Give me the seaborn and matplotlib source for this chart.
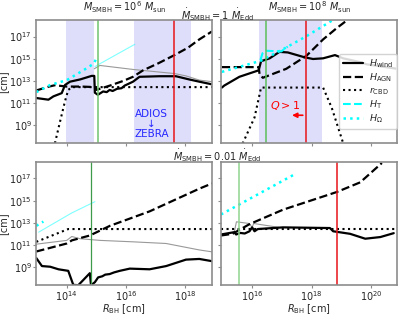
import numpy as np
import matplotlib
matplotlib.use("Agg")
import matplotlib.pyplot as plt
import seaborn as sns

# all values are log10 of the quantity in cm

# --- M = 1e6 Msun, Mdot = 1 Edd (top left)
tl_wind_x = [12.97, 13.38, 13.55, 13.83, 13.94, 14.11, 14.45, 14.84, 14.93, 14.95, 15.05, 15.23, 15.35, 15.45, 15.55, 15.7, 15.85, 15.96, 16.24, 16.46, 17.14, 17.69, 18.14, 18.48, 18.91]
tl_wind_y = [11.47, 11.32, 11.62, 11.91, 12.64, 12.94, 13.14, 13.46, 13.46, 11.95, 11.76, 12.06, 12.0, 12.2, 12.1, 12.3, 12.35, 12.59, 12.94, 13.38, 13.43, 13.43, 13.14, 12.94, 12.7]
tl_agn_x = [12.97, 13.4, 13.6, 14.0, 14.5, 14.97, 15.0, 15.46, 15.9, 16.24, 16.58, 17.1, 17.64, 18.1, 18.48, 18.91]
tl_agn_y = [12.15, 12.5, 12.62, 12.5, 12.5, 12.45, 12.2, 12.59, 13.0, 13.38, 13.96, 14.6, 15.33, 16.0, 16.74, 17.46]
tl_cbd_x = [13.6, 13.78, 13.94, 14.05, 14.17, 18.91]
tl_cbd_y = [7.4, 9.43, 11.18, 12.2, 12.45, 12.45]
tl_omega_x = [12.97, 13.44, 14.0, 14.56, 14.9, 15.0]
tl_omega_y = [12.0, 12.64, 13.08, 13.96, 14.54, 15.0]
tl_faint_x = [14.95, 16.3]
tl_faint_y = [14.3, 16.3]
tl_gray_x = [14.93, 15.12, 16.24, 17.64, 18.03, 18.48, 18.91]
tl_gray_y = [14.1, 14.4, 14.04, 13.67, 13.46, 13.08, 12.94]

# --- M = 1e8 Msun, Mdot = 1 Edd (top right)
tr_wind_x = [14.98, 15.06, 15.57, 16.22, 16.3, 16.59, 16.92, 17.2, 17.77, 18.05, 18.39, 18.79, 19.07, 19.64, 19.86, 20.88]
tr_wind_y = [12.41, 12.59, 13.38, 13.96, 14.78, 15.04, 15.62, 15.57, 15.13, 14.98, 15.04, 15.33, 15.04, 14.7, 14.5, 14.1]
tr_agn_x = [14.98, 16.22, 16.25, 16.36, 17.15, 17.83, 18.39, 18.85, 19.19]
tr_agn_y = [14.25, 14.25, 13.6, 13.29, 14.1, 15.27, 16.74, 17.76, 18.45]
tr_cbd_x = [15.68, 16.08, 16.3, 18.39, 18.68, 19.07]
tr_cbd_y = [7.38, 9.72, 12.41, 12.41, 10.6, 7.38]
tr_t_x = [16.28, 16.35, 16.47, 16.98, 17.2]
tr_t_y = [14.9, 15.5, 15.72, 15.66, 16.1]
tr_omega_x = [14.98, 16.3, 17.04, 17.83, 18.73]
tr_omega_y = [13.82, 14.83, 15.86, 17.03, 18.5]

# --- M = 1e6 Msun, Mdot = 0.01 Edd (bottom left)
bl_wind_x = [12.97, 13.16, 13.44, 13.72, 14.05, 14.22, 14.39, 14.78, 14.82, 14.95, 15.06, 15.2, 15.3, 15.45, 15.6, 15.79, 16.13, 16.8, 17.36, 18.03, 18.48, 18.91]
bl_wind_y = [9.84, 9.12, 9.06, 8.83, 8.69, 7.43, 7.4, 8.48, 7.4, 7.67, 8.1, 8.2, 8.35, 8.4, 8.55, 8.69, 8.89, 8.83, 9.12, 9.7, 9.76, 9.56]
bl_agn_x = [12.97, 14.0, 14.1, 14.17, 14.78, 15.46, 16.8, 18.48, 18.91]
bl_agn_y = [10.43, 11.15, 11.3, 11.43, 11.87, 12.74, 14.04, 16.08, 16.55]
bl_cbd_x = [12.97, 14.05, 18.91]
bl_cbd_y = [11.3, 12.45, 12.45]
bl_omega_x = [12.97, 13.21]
bl_omega_y = [12.74, 13.12]
bl_faint_x = [13.05, 14.17, 14.95]
bl_faint_y = [12.17, 13.9, 14.91]
bl_gray_x = [12.97, 14.0, 14.17, 14.45, 15.12, 16.24, 17.36, 18.48, 18.91]
bl_gray_y = [11.09, 11.43, 11.78, 11.58, 11.43, 11.3, 11.15, 10.57, 10.4]

# --- M = 1e8 Msun, Mdot = 0.01 Edd (bottom right)
br_wind_x = [14.95, 15.4, 15.46, 15.6, 15.75, 15.91, 16.0, 16.08, 16.19, 17.04, 18.62, 18.73, 19.3, 19.81, 20.32, 20.77]
br_wind_y = [11.96, 12.17, 11.96, 12.1, 12.05, 12.25, 12.6, 12.25, 12.45, 12.6, 12.54, 12.25, 12.02, 11.58, 11.73, 12.08]
br_agn_x = [14.95, 15.34, 15.91, 17.04, 18.85, 19.64, 20.37]
br_agn_y = [11.87, 12.02, 12.89, 14.19, 15.78, 16.65, 18.39]
br_cbd_x = [14.95, 20.88]
br_cbd_y = [12.45, 12.45]
br_omega_x = [14.95, 17.38]
br_omega_y = [13.76, 17.3]
br_gray_x = [15.4, 15.47, 15.9, 16.0, 16.05, 16.9]
br_gray_y = [12.2, 13.1, 12.95, 12.6, 12.95, 12.6]

# shaded ranges and vertical markers (log10 R)
tl_spans = [(13.97, 14.93), (16.26, 18.2)]
tr_spans = [(16.22, 18.34)]
tl_green, tl_red = 15.04, 17.64
tr_green, tr_red = 16.47, 17.8
bl_green = 14.82
br_green, br_red = 15.55, 18.85

sns.set_style("white")
plt.rcParams["font.family"] = ["DejaVu Sans"]
plt.rcParams["axes.edgecolor"] = "0.55"
plt.rcParams["axes.linewidth"] = 1.2
plt.rcParams["xtick.color"] = "0.55"
plt.rcParams["ytick.color"] = "0.55"
plt.rcParams["xtick.labelcolor"] = "0.15"
plt.rcParams["ytick.labelcolor"] = "0.15"


def curve(ax, lx, ly, **kw):
    sns.lineplot(x=np.power(10.0, lx), y=np.power(10.0, ly), ax=ax,
                 estimator=None, sort=False, legend=False, **kw)


def wind(ax, lx, ly, **kw):
    curve(ax, lx, ly, color="black", lw=1.6, **kw)


def agn(ax, lx, ly, **kw):
    curve(ax, lx, ly, color="black", lw=1.6, linestyle="--", **kw)


def cbd(ax, lx, ly, **kw):
    curve(ax, lx, ly, color="black", lw=1.5, linestyle=":", **kw)


fig, axes = plt.subplots(2, 2, figsize=(4, 3.17), dpi=100, sharey=True)
plt.subplots_adjust(left=0.09, right=0.9925, top=0.937, bottom=0.1,
                    wspace=0.051, hspace=0.15)
ax_tl, ax_tr = axes[0]
ax_bl, ax_br = axes[1]
for ax in axes.flat:
    ax.set_xscale("log")
    ax.set_yscale("log")

span_col = (0.87, 0.87, 0.98)
for a, b in tl_spans:
    ax_tl.axvspan(10**a, 10**b, color=span_col, lw=0)
for a, b in tr_spans:
    ax_tr.axvspan(10**a, 10**b, color=span_col, lw=0)

# top left
curve(ax_tl, tl_gray_x, tl_gray_y, color="0.6", lw=0.8)
curve(ax_tl, tl_faint_x, tl_faint_y, color="cyan", lw=0.8, alpha=0.5)
wind(ax_tl, tl_wind_x, tl_wind_y)
agn(ax_tl, tl_agn_x, tl_agn_y)
cbd(ax_tl, tl_cbd_x, tl_cbd_y)
curve(ax_tl, tl_omega_x, tl_omega_y, color="cyan", lw=1.8, linestyle=":")
ax_tl.axvline(10**tl_green, color="#6fc46f", lw=1.1)
ax_tl.axvline(10**tl_red, color="#e8141a", lw=1.1)
ax_tl.text(10**16.86, 10**9.1, "ADIOS\n\u2193\nZEBRA", color="#2727ff",
           fontsize=7.5, ha="center", va="center", linespacing=1.0)

# top right
wind(ax_tr, tr_wind_x, tr_wind_y, label=r"$H_{\rm wind}$")
agn(ax_tr, tr_agn_x, tr_agn_y, label=r"$H_{\rm AGN}$")
cbd(ax_tr, tr_cbd_x, tr_cbd_y, label=r"$r_{\rm CBD}$")
curve(ax_tr, tr_t_x, tr_t_y, color="cyan", lw=1.5, linestyle="--",
      label=r"$H_{\rm T}$")
curve(ax_tr, tr_omega_x, tr_omega_y, color="cyan", lw=1.8, linestyle=":",
      label=r"$H_{\Omega}$")
ax_tr.axvline(10**tr_green, color="#5cbf5c", lw=1.1)
ax_tr.axvline(10**tr_red, color="#e8141a", lw=1.1)
ax_tr.text(10**17.12, 10**10.77, r"$Q>1$", color="red", fontsize=8,
           ha="center", va="center")
ax_tr.annotate("", xy=(10**17.25, 10**9.92), xytext=(10**17.8, 10**9.92),
               arrowprops=dict(arrowstyle="-|>", color="red", lw=1.2,
                               mutation_scale=7))
ax_tr.legend(loc="lower right", bbox_to_anchor=(1.0, 0.12), fontsize=6.8,
             handlelength=2.2, borderpad=0.4, labelspacing=0.15,
             borderaxespad=0.0, handletextpad=0.6,
             edgecolor="0.8", framealpha=0.85)

# bottom left
curve(ax_bl, bl_gray_x, bl_gray_y, color="0.6", lw=0.8)
curve(ax_bl, bl_faint_x, bl_faint_y, color="cyan", lw=0.8, alpha=0.5)
wind(ax_bl, bl_wind_x, bl_wind_y)
agn(ax_bl, bl_agn_x, bl_agn_y)
cbd(ax_bl, bl_cbd_x, bl_cbd_y)
curve(ax_bl, bl_omega_x, bl_omega_y, color="cyan", lw=1.8, linestyle=":")
ax_bl.axvline(10**bl_green, color="#3f9a4a", lw=0.9)

# bottom right
curve(ax_br, br_gray_x, br_gray_y, color="0.6", lw=0.8)
wind(ax_br, br_wind_x, br_wind_y)
agn(ax_br, br_agn_x, br_agn_y)
cbd(ax_br, br_cbd_x, br_cbd_y)
curve(ax_br, br_omega_x, br_omega_y, color="cyan", lw=1.8, linestyle=":")
ax_br.axvline(10**br_green, color="#8fd48f", lw=1.1)
ax_br.axvline(10**br_red, color="#e8141a", lw=1.1)

ax_tl.set_ylim(10**7.39, 10**18.49)
ax_bl.set_ylim(10**7.39, 10**18.49)
for ax in (ax_tl, ax_bl):
    ax.set_xlim(10**12.96, 10**18.91)
    ax.set_xticks([1e14, 1e16, 1e18])
for ax in (ax_tr, ax_br):
    ax.set_xlim(10**14.95, 10**20.88)
    ax.set_xticks([1e16, 1e18, 1e20])
for ax in axes.flat:
    ax.set_yticks([1e9, 1e11, 1e13, 1e15, 1e17])
    ax.minorticks_off()
    ax.tick_params(length=2, width=0.8, labelsize=7, pad=1,
                   bottom=True, left=True)
    ax.set_xlabel("")
    ax.set_ylabel("")
for ax in (ax_tl, ax_tr):
    ax.tick_params(labelbottom=False)
for ax in (ax_tr, ax_br):
    ax.tick_params(labelleft=False)
for ax in (ax_tl, ax_bl):
    ax.set_ylabel("[cm]", fontsize=7, labelpad=0.5)
for ax in (ax_bl, ax_br):
    ax.set_xlabel(r"$R_{\rm BH}$ [cm]", fontsize=7, labelpad=-0.5)

fig.text(124.5 / 400, 1 - 7 / 317, r"$M_{\rm SMBH} = 10^6\ M_{\rm sun}$",
         ha="center", va="center", fontsize=7)
fig.text(309.5 / 400, 1 - 7 / 317, r"$M_{\rm SMBH} = 10^8\ M_{\rm sun}$",
         ha="center", va="center", fontsize=7)
fig.text(217 / 400, 1 - 15 / 317, r"$\dot{M}_{\rm SMBH} = 1\ \dot{M}_{\rm Edd}$",
         ha="center", va="center", fontsize=7)
fig.text(217 / 400, 1 - 156 / 317, r"$\dot{M}_{\rm SMBH} = 0.01\ \dot{M}_{\rm Edd}$",
         ha="center", va="center", fontsize=7)

plt.savefig("out.png", dpi=100)
